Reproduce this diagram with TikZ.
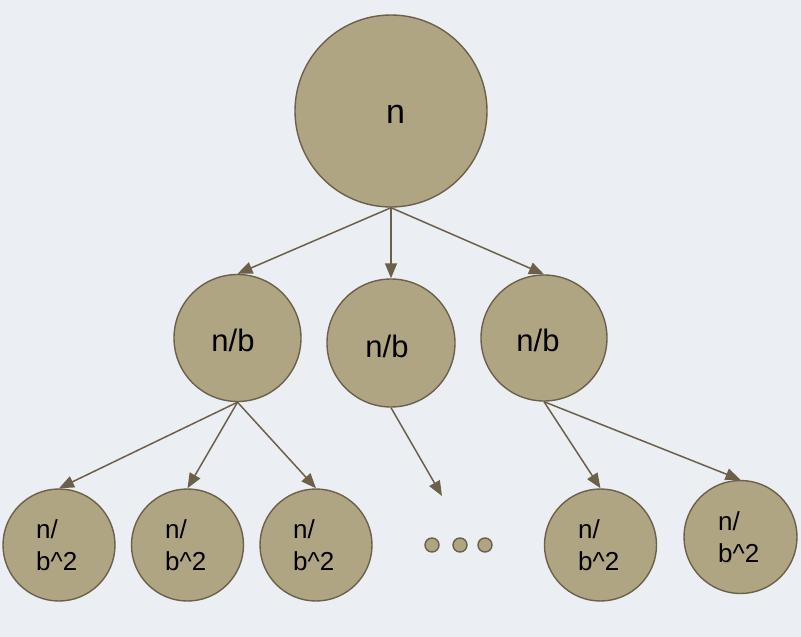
\documentclass[tikz,border=0pt]{standalone}
\usepackage{fontspec}
\setmainfont{Liberation Sans}
\usetikzlibrary{arrows.meta}

\definecolor{bgcol}{RGB}{235,239,243}
\definecolor{nodefill}{RGB}{175,165,130}
\definecolor{edgecol}{RGB}{108,96,74}

\tikzset{
  treenode/.style={circle, draw=edgecol, fill=nodefill, line width=1.4pt,
    inner sep=0pt, minimum size=#1},
  dotnode/.style={circle, draw=edgecol, fill=nodefill, line width=1.4pt,
    inner sep=0pt, minimum size=14pt},
  link/.style={draw=edgecol, line width=1.5pt,
    -{Triangle[length=15pt,width=12pt]}},
  bigtext/.style={font=\fontsize{34}{40}\selectfont, anchor=base},
  midtext/.style={font=\fontsize{31}{36}\selectfont, anchor=base},
  smalltext/.style={font=\fontsize{26}{32}\selectfont, anchor=base west,
    inner sep=0pt},
}

\newcommand{\twoline}{\vtop{\baselineskip=32pt\hbox{n/}\hbox{b\string^2}}}

\begin{document}
\begin{tikzpicture}[x=1pt, y=-1pt]
  \fill[bgcol] (0,0) rectangle (801,637);
  \useasboundingbox (0,0) rectangle (801,637);

  % top level
  \node[treenode=192pt] (root) at (391,111) {};
  \node[bigtext] (troot) at (395.5,123) {n};

  % second level
  \node[treenode=127pt] (L) at (237.5,338) {};
  \node[treenode=128pt] (M) at (391,343) {};
  \node[treenode=126pt] (R) at (544,338) {};
  \node[midtext] (tL) at (233,351) {n/b};
  \node[midtext] (tM) at (387,357) {n/b};
  \node[midtext] (tR) at (538,351) {n/b};

  % third level
  \node[treenode=112pt] (b1) at (59,545) {};
  \node[treenode=112pt] (b2) at (187.5,545) {};
  \node[treenode=112pt] (b3) at (316,545) {};
  \node[treenode=112pt] (b4) at (600.5,545) {};
  \node[treenode=113pt] (b5) at (740.5,537) {};
  \node[smalltext] (t1) at (36,538) {\twoline};
  \node[smalltext] (t2) at (165,538) {\twoline};
  \node[smalltext] (t3) at (293,538) {\twoline};
  \node[smalltext] (t4) at (578,538) {\twoline};
  \node[smalltext] (t5) at (718,530) {\twoline};

  % ellipsis dots
  \node[dotnode] (d1) at (432,545) {};
  \node[dotnode] (d2) at (460,545) {};
  \node[dotnode] (d3) at (485,545) {};
  \coordinate (mend) at (442,496);

  % connectors
  \draw[link] (root.south) -- (L.north);
  \draw[link] (root.south) -- (M.north);
  \draw[link] (root.south) -- (R.north);
  \draw[link] (L.south) -- (b1.north);
  \draw[link] (L.south) -- (b2.north);
  \draw[link] (L.south) -- (b3.north);
  \draw[link] (M.south) -- (mend);
  \draw[link] (R.south) -- (b4.north);
  \draw[link] (R.south) -- (b5.north);
\end{tikzpicture}
\end{document}
